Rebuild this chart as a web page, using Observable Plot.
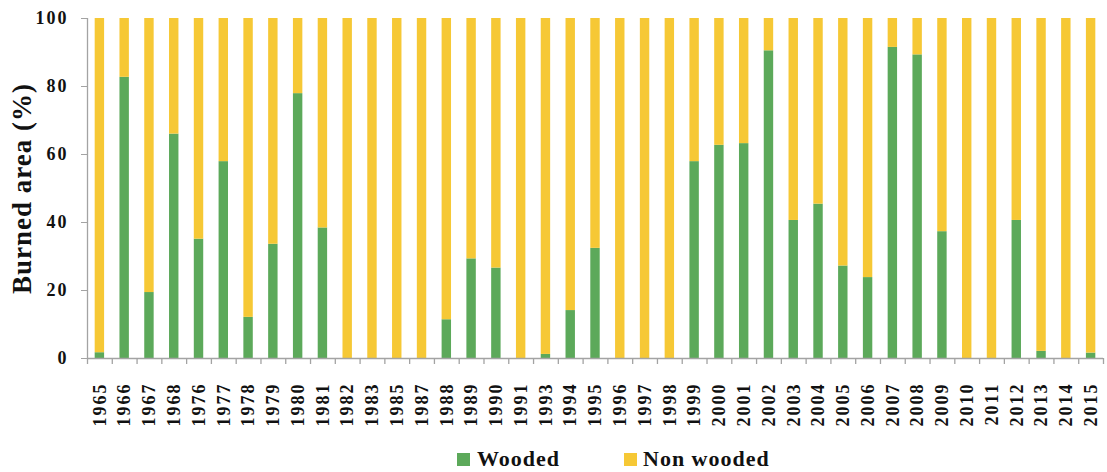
<!DOCTYPE html>
<html>
<head>
<meta charset="utf-8">
<script src="https://cdn.jsdelivr.net/npm/d3@7"></script>
<script src="https://cdn.jsdelivr.net/npm/@observablehq/plot@0.6"></script>
<style>
  body { margin: 0; background: #fff; font-family: "Liberation Serif", "Times New Roman", serif; }
  #wrap { position: relative; width: 1107px; height: 472px; }
  #legend { position: absolute; left: 0; top: 445px; width: 1107px; height: 27px; font-weight: bold; font-size: 22px; letter-spacing: 1px; color: #111; }
  .sw { position: absolute; top: 8px; width: 13px; height: 13px; }
  .lt { position: absolute; top: 0px; line-height: 27px; }
</style>
</head>
<body>
<div id="wrap">
  <div id="chart"></div>
  <div id="legend">
    <div class="sw" style="left:457px;background:#5ca95a"></div><div class="lt" style="left:477px">Wooded</div>
    <div class="sw" style="left:624px;background:#f6c835"></div><div class="lt" style="left:643px">Non wooded</div>
  </div>
</div>
<script>
const years = ["1965","1966","1967","1968","1976","1977","1978","1979","1980","1981","1982","1983","1985","1987","1988","1989","1990","1991","1993","1994","1995","1996","1997","1998","1999","2000","2001","2002","2003","2004","2005","2006","2007","2008","2009","2010","2011","2012","2013","2014","2015"];
const wooded = [1.7,82.7,19.4,66,35.1,57.9,12.1,33.6,77.9,38.4,0,0,0,0,11.4,29.3,26.6,0,1.2,14.1,32.4,0,0,0,57.9,62.7,63.2,90.5,40.6,45.4,27.2,23.8,91.5,89.3,37.3,0,0,40.6,2.1,0,1.6];
const nonWooded = [98.3,17.3,80.6,34,64.9,42.1,87.9,66.4,22.1,61.6,100,100,100,100,88.6,70.7,73.4,100,98.8,85.9,67.6,100,100,100,42.1,37.3,36.8,9.5,59.4,54.6,72.8,76.2,8.5,10.7,62.7,100,100,59.4,97.9,100,98.4];
const seriesNames = ["Wooded", "Non wooded"];
const seriesColors = ["#5ca95a", "#f6c835"];
const yTicks = [0, 20, 40, 60, 80, 100];

const rows = [];
years.forEach((y, i) => {
  rows.push({year: y, series: seriesNames[0], value: wooded[i]});
  rows.push({year: y, series: seriesNames[1], value: nonWooded[i]});
});

const W = 1107, H = 445, mL = 87, mR = 4, mT = 18, mB = 87;
const step = (W - mL - mR) / years.length;
const axisGray = "#a3a3a3";
const tickLen = 6 * 100 / (H - mT - mB);

const chart = Plot.plot({
  width: W, height: H,
  marginLeft: mL, marginRight: mR, marginTop: mT, marginBottom: mB,
  style: {fontFamily: "'Liberation Serif', 'Times New Roman', serif", fontWeight: "bold", fontSize: "18px", letterSpacing: "2px", color: "#111", background: "white"},
  x: {domain: years, paddingInner: 0.62, paddingOuter: 0.31, round: false},
  y: {domain: [0, 100]},
  color: {domain: seriesNames, range: seriesColors},
  marks: [
    Plot.barY(rows, {x: "year", y: "value", fill: "series", order: seriesNames}),
    Plot.ruleY([0], {stroke: axisGray, strokeWidth: 1.3}),
    Plot.ruleX([years[0]], {x: d => d, y1: 0, y2: 100, dx: -step / 2, stroke: axisGray, strokeWidth: 1.3}),
    Plot.ruleX(years, {x: d => d, y1: 0, y2: -tickLen, dx: -step / 2, stroke: axisGray, strokeWidth: 1.3}),
    Plot.ruleX([years[years.length - 1]], {x: d => d, y1: 0, y2: -tickLen, dx: step / 2, stroke: axisGray, strokeWidth: 1.3}),
    Plot.axisY({ticks: yTicks, tickSize: 6, tickPadding: 13, stroke: axisGray, fill: "#111", label: null, fontSize: 18, fontWeight: "bold"}),
    Plot.axisX({tickSize: 0, tickPadding: 24, tickRotate: -90, label: null, fill: "#111", fontSize: 18, fontWeight: "bold"}),
    Plot.text(["Burned area (%)"], {text: d => d, frameAnchor: "left", textAnchor: "middle", lineAnchor: "middle", dx: -65, rotate: -90, fontSize: 27, fontWeight: "bold", fill: "#111"})
  ]
});
d3.select(chart).selectAll("text").filter(function() { return this.textContent === "Burned area (%)"; }).style("letter-spacing", "1px");
document.getElementById("chart").appendChild(chart);
</script>
</body>
</html>
